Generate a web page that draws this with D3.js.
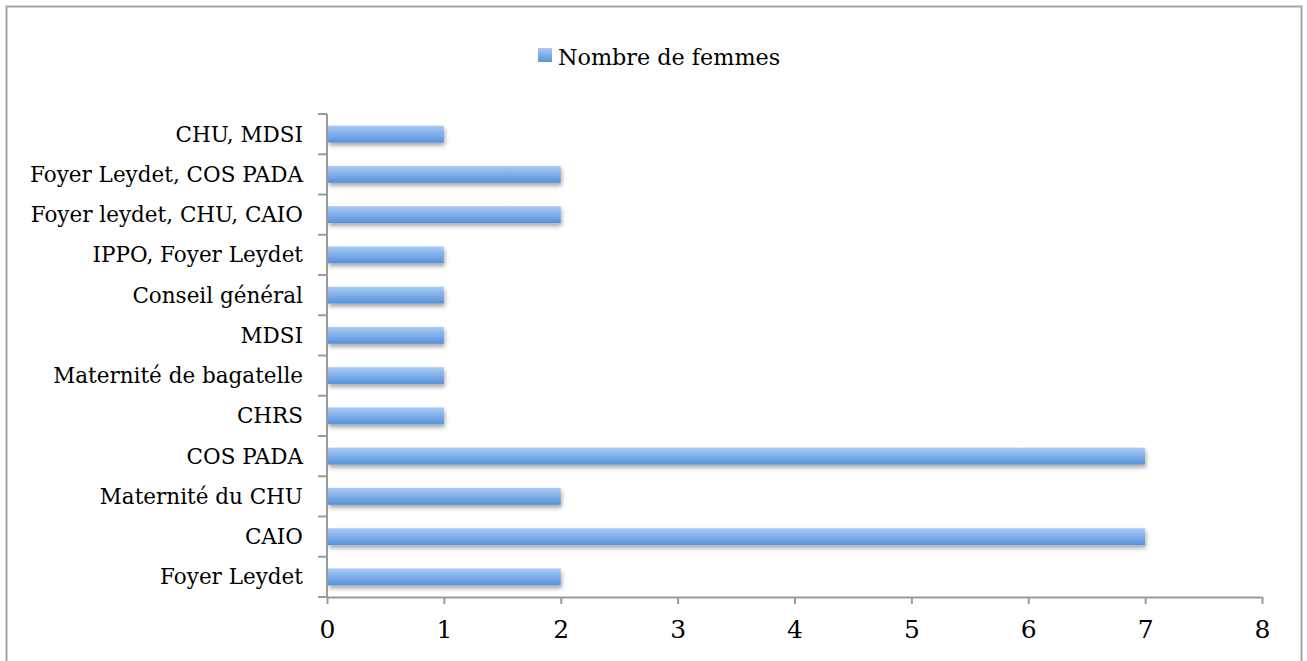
<!DOCTYPE html>
<html><head><meta charset="utf-8">
<script src="https://cdn.jsdelivr.net/npm/d3@7"></script>
<style>body{margin:0;background:#fff;}svg{display:block;}</style>
</head><body>
<svg id="c" width="1307" height="661"></svg>
<script>
const categories = ["Foyer Leydet","CAIO","Maternité du CHU","COS PADA","CHRS","Maternité de bagatelle","MDSI","Conseil général","IPPO, Foyer Leydet","Foyer leydet, CHU, CAIO","Foyer Leydet, COS PADA","CHU, MDSI"];
const values = [2,7,2,7,1,1,1,1,1,2,2,1];
const xTicks = [0,1,2,3,4,5,6,7,8];
const seriesName = "Nombre de femmes";

(function(){
const svg = d3.select("#c");
const font = "'DejaVu Serif', serif";
const fs = 21.5;
const defs = svg.append("defs");
const g1 = defs.append("linearGradient").attr("id","bg").attr("x1",0).attr("y1",0).attr("x2",0).attr("y2",1);
g1.append("stop").attr("offset","0%").attr("stop-color","#aacbf7");
g1.append("stop").attr("offset","100%").attr("stop-color","#5592da");
const f = defs.append("filter").attr("id","sh").attr("x","-5%").attr("y","-30%").attr("width","110%").attr("height","180%");
f.append("feDropShadow").attr("dx",1).attr("dy",3).attr("stdDeviation",2).attr("flood-color","#000").attr("flood-opacity",0.35);

svg.append("path").attr("d","M6.5,670 V6.5 H1301.5 V670").attr("fill","none").attr("stroke","#a6a6a6").attr("stroke-width",2);

const pL=327, pR=1262, pT=114, pB=597;
const x = d3.scaleLinear().domain([0,8]).range([pL,pR]);
const y = d3.scaleBand().domain(categories.slice().reverse()).range([pT,pB]).paddingInner(0.58).paddingOuter(0.29);

svg.append("g").selectAll("rect").data(categories).join("rect")
  .attr("x", x(0)+1).attr("y", d=>y(d)).attr("height", y.bandwidth())
  .attr("width", (d,i)=>x(values[i])-x(0)-1)
  .attr("fill","url(#bg)").attr("filter","url(#sh)");

const xa = svg.append("g").attr("transform",`translate(0,${pB})`)
  .call(d3.axisBottom(x).tickValues(xTicks).tickSize(7).tickSizeOuter(0).tickPadding(16));
xa.selectAll("path,line").attr("stroke","#9a9a9a").attr("stroke-width",2);
xa.selectAll("text").attr("font-family",font).attr("font-size",25).attr("fill","#000");

const step = (pB-pT)/categories.length;
const ya = svg.append("g").attr("transform",`translate(${pL},0)`);
ya.append("line").attr("x1",0).attr("x2",0).attr("y1",pT).attr("y2",pB).attr("stroke","#9a9a9a").attr("stroke-width",2);
ya.selectAll("line.t").data(d3.range(categories.length+1)).join("line").attr("class","t")
  .attr("x1",-9).attr("x2",0).attr("y1",i=>pT+i*step).attr("y2",i=>pT+i*step).attr("stroke","#9a9a9a").attr("stroke-width",2);
ya.selectAll("text").data(categories).join("text")
  .attr("x",-24).attr("y",d=>y(d)+y.bandwidth()/2).attr("dy","0.35em")
  .attr("text-anchor","end").attr("font-family",font).attr("font-size",fs).attr("fill","#000").text(d=>d);

svg.append("rect").attr("x",538).attr("y",48).attr("width",14).attr("height",14).attr("fill","url(#bg)");
svg.append("text").attr("x",558).attr("y",57).attr("dy","0.35em").attr("font-family",font).attr("font-size",22.3).attr("fill","#000").text(seriesName);
})();
</script>
</body></html>
